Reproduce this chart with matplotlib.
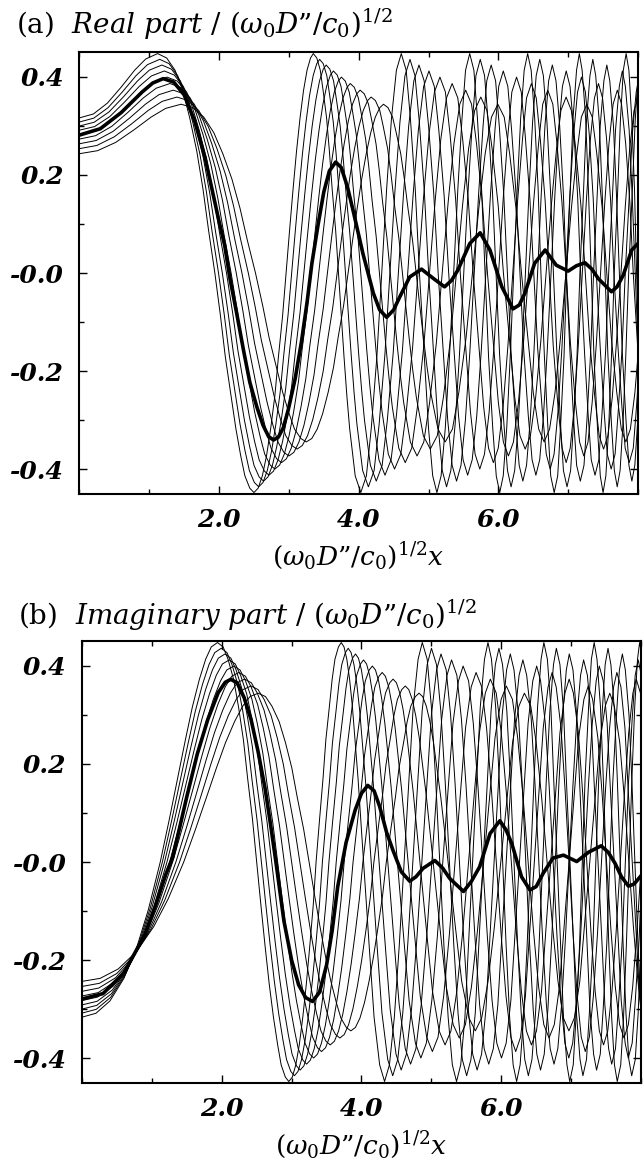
import matplotlib
matplotlib.use("Agg")
import matplotlib.pyplot as plt
import numpy as np
from matplotlib.ticker import MultipleLocator

plt.rcParams["font.family"] = "DejaVu Serif"
plt.rcParams["mathtext.fontset"] = "dejavuserif"

# --- data ---------------------------------------------------------------------
# The nine thin curves are stretched copies of one another: each one is the
# outermost curve (scale 1.0) widened in x by its scale factor and lowered in
# height by the same factor.  Scale factors read from the first troughs / peaks.
scales = [1.000, 1.027, 1.055, 1.086, 1.120, 1.158, 1.200, 1.247, 1.300]

# points along the outermost thin curve (scale 1.0)
u_read = [
    0.00, 0.20, 0.40, 0.60, 0.79, 0.95, 1.12, 1.25, 1.37, 1.48, 1.58, 1.68, 1.77, 1.85, 1.94, 2.02, 2.09, 2.17, 2.24, 2.31,
    2.37, 2.44, 2.50, 2.56, 2.62, 2.68, 2.74, 2.80, 2.85, 2.91, 2.96, 3.01, 3.06, 3.11, 3.16, 3.21, 3.26, 3.31, 3.35, 3.40,
    3.45, 3.49, 3.54, 3.58, 3.62, 3.67, 3.71, 3.75, 3.79, 3.83, 3.87,
    3.95, 4.03, 4.11, 4.18, 4.26, 4.33, 4.40,
    4.47, 4.54, 4.61, 4.68, 4.74, 4.81, 4.87, 4.94, 5.00, 5.06, 5.12, 5.18, 5.24, 5.30, 5.36, 5.42,
    5.48, 5.53, 5.59, 5.65, 5.70, 5.76, 5.81, 5.86, 5.92, 5.97, 6.02, 6.07, 6.12, 6.17, 6.22, 6.27,
    6.32, 6.37, 6.42, 6.47, 6.52, 6.57, 6.61, 6.66, 6.71, 6.75, 6.80, 6.85, 6.89, 6.94, 6.98, 7.03,
    7.07, 7.12, 7.16, 7.20, 7.25, 7.29, 7.33, 7.37, 7.42, 7.46, 7.50, 7.54, 7.58, 7.62, 7.66, 7.71,
    7.75, 7.79, 7.83, 7.87, 7.91, 7.95, 7.98, 8.02,
]
re_read = [
    0.316, 0.324, 0.346, 0.379, 0.413, 0.436, 0.447, 0.438, 0.413, 0.372, 0.316, 0.249, 0.171, 0.087, 0.000, -0.087, -0.171, -0.249, -0.316, -0.372,
    -0.413, -0.438, -0.447, -0.438, -0.413, -0.372, -0.316, -0.249, -0.171, -0.087, 0.000, 0.087, 0.171, 0.249, 0.316, 0.372, 0.413, 0.438, 0.447, 0.438,
    0.413, 0.372, 0.316, 0.249, 0.171, 0.087, 0.000, -0.087, -0.171, -0.249, -0.316,
    -0.413, -0.447, -0.413, -0.316, -0.171, 0.000, 0.171,
    0.316, 0.413, 0.447, 0.413, 0.316, 0.171, 0.000, -0.171, -0.316, -0.413, -0.447, -0.413, -0.316, -0.171, 0.000, 0.171,
    0.316, 0.413, 0.447, 0.413, 0.316, 0.171, 0.000, -0.171, -0.316, -0.413, -0.447, -0.413, -0.316, -0.171, 0.000, 0.171,
    0.316, 0.413, 0.447, 0.413, 0.316, 0.171, 0.000, -0.171, -0.316, -0.413, -0.447, -0.413, -0.316, -0.171, 0.000, 0.171,
    0.316, 0.413, 0.447, 0.413, 0.316, 0.171, 0.000, -0.171, -0.316, -0.413, -0.447, -0.413, -0.316, -0.171, 0.000, 0.171,
    0.316, 0.413, 0.447, 0.413, 0.316, 0.171, 0.000, -0.171,
]
im_read = [
    -0.316, -0.308, -0.283, -0.237, -0.171, -0.097, 0.000, 0.087, 0.171, 0.249, 0.316, 0.372, 0.413, 0.438, 0.447, 0.438, 0.413, 0.372, 0.316, 0.249,
    0.171, 0.087, 0.000, -0.087, -0.171, -0.249, -0.316, -0.372, -0.413, -0.438, -0.447, -0.438, -0.413, -0.372, -0.316, -0.249, -0.171, -0.087, 0.000, 0.087,
    0.171, 0.249, 0.316, 0.372, 0.413, 0.438, 0.447, 0.438, 0.413, 0.372, 0.316,
    0.171, 0.000, -0.171, -0.316, -0.413, -0.447, -0.413,
    -0.316, -0.171, 0.000, 0.171, 0.316, 0.413, 0.447, 0.413, 0.316, 0.171, 0.000, -0.171, -0.316, -0.413, -0.447, -0.413,
    -0.316, -0.171, 0.000, 0.171, 0.316, 0.413, 0.447, 0.413, 0.316, 0.171, 0.000, -0.171, -0.316, -0.413, -0.447, -0.413,
    -0.316, -0.171, 0.000, 0.171, 0.316, 0.413, 0.447, 0.413, 0.316, 0.171, 0.000, -0.171, -0.316, -0.413, -0.447, -0.413,
    -0.316, -0.171, 0.000, 0.171, 0.316, 0.413, 0.447, 0.413, 0.316, 0.171, 0.000, -0.171, -0.316, -0.413, -0.447, -0.413,
    -0.316, -0.171, 0.000, 0.171, 0.316, 0.413, 0.447, 0.413,
]

# heavy curve, panel (a)
thick_re_x = [0.00, 0.30, 0.60, 0.90, 1.05, 1.20, 1.35, 1.50, 1.65, 1.80, 1.90, 2.00, 2.08, 2.16,
              2.25, 2.35, 2.44, 2.54, 2.63, 2.71, 2.78, 2.85, 2.92, 2.99, 3.09, 3.18, 3.26, 3.33,
              3.42, 3.50, 3.58, 3.67, 3.75, 3.84, 3.93, 4.06, 4.21, 4.30, 4.40, 4.50, 4.59, 4.73,
              4.90, 5.07, 5.23, 5.33, 5.42, 5.59, 5.74, 5.88, 6.05, 6.21, 6.30, 6.38, 6.52, 6.67,
              6.83, 7.00, 7.12, 7.24, 7.34, 7.43, 7.62, 7.70, 7.79, 7.91, 8.00]
thick_re_y = [0.281, 0.294, 0.327, 0.369, 0.387, 0.396, 0.389, 0.363, 0.310, 0.235, 0.170, 0.105, 0.057, -0.014,
              -0.080, -0.157, -0.222, -0.272, -0.310, -0.333, -0.340, -0.334, -0.315, -0.279, -0.215, -0.140, -0.060, 0.020,
              0.100, 0.165, 0.208, 0.226, 0.215, 0.175, 0.121, 0.040, -0.041, -0.075, -0.090, -0.075, -0.048, -0.008,
              0.008, -0.011, -0.028, -0.015, 0.006, 0.060, 0.082, 0.047, -0.028, -0.073, -0.065, -0.041, 0.020, 0.047,
              0.016, 0.004, 0.015, 0.021, 0.008, -0.011, -0.038, -0.028, -0.004, 0.047, 0.060]

# heavy curve, panel (b)
thick_im_x = [0.00, 0.30, 0.60, 0.90, 1.05, 1.20, 1.30, 1.50, 1.65, 1.80, 1.95, 2.05, 2.13, 2.22,
              2.32, 2.42, 2.52, 2.62, 2.70, 2.78, 2.89, 3.00, 3.10, 3.20, 3.30, 3.40, 3.50, 3.58,
              3.66, 3.78, 3.91, 4.00, 4.09, 4.18, 4.26, 4.36, 4.45, 4.57, 4.69, 4.78, 4.88, 5.05,
              5.16, 5.26, 5.46, 5.57, 5.69, 5.84, 5.98, 6.07, 6.15, 6.29, 6.41, 6.50, 6.60, 6.74,
              6.89, 7.08, 7.25, 7.43, 7.53, 7.63, 7.72, 7.82, 7.90, 8.00]
thick_im_y = [-0.279, -0.268, -0.226, -0.148, -0.090, -0.025, 0.010, 0.133, 0.220, 0.290, 0.345, 0.366, 0.372, 0.365,
              0.335, 0.290, 0.225, 0.150, 0.075, -0.005, -0.120, -0.200, -0.250, -0.276, -0.284, -0.265, -0.210, -0.140,
              -0.050, 0.040, 0.106, 0.140, 0.156, 0.145, 0.113, 0.060, 0.024, -0.020, -0.039, -0.030, -0.013, 0.003,
              -0.012, -0.033, -0.060, -0.040, -0.010, 0.058, 0.084, 0.065, 0.038, -0.030, -0.057, -0.050, -0.023, 0.008,
              0.014, 0.001, 0.020, 0.033, 0.020, -0.003, -0.030, -0.049, -0.045, -0.028]

ytick_vals = [-0.4, -0.2, 0.0, 0.2, 0.4]
ytick_text = ["-0.4", "-0.2", "-0.0", "0.2", "0.4"]
xtick_vals = [2.0, 4.0, 6.0]
xtick_text = ["2.0", "4.0", "6.0"]

title_a = r"(a)  $\mathit{Real\ part}$ / $(\omega_0 D$”$/c_0)^{1/2}$"
title_b = r"(b)  $\mathit{Imaginary\ part}$ / $(\omega_0 D$”$/c_0)^{1/2}$"
xlab = r"$(\omega_0 D$”$/c_0)^{1/2}x$"

TICKFONT = dict(fontsize=18, fontweight="bold", fontstyle="italic")


def style_axes(ax, title, title_gap):
    ax.set_xlim(0, 8)
    ax.set_ylim(-0.45, 0.45)
    ax.set_xticks(xtick_vals)
    ax.set_xticklabels(xtick_text, **TICKFONT)
    ax.set_yticks(ytick_vals)
    ax.set_yticklabels(ytick_text, **TICKFONT)
    ax.xaxis.set_minor_locator(MultipleLocator(1.0))
    ax.yaxis.set_minor_locator(MultipleLocator(0.1))
    ax.tick_params(which="both", direction="in", top=True, right=True, width=1.0)
    ax.tick_params(which="major", length=6)
    ax.tick_params(which="minor", length=3.5)
    ax.tick_params(axis="y", which="major", pad=11)
    ax.tick_params(axis="x", which="major", pad=10)
    for sp in ax.spines.values():
        sp.set_linewidth(1.5)
    ax.text(-0.114, 1.0 + title_gap, title, transform=ax.transAxes,
            ha="left", va="baseline", fontsize=20)
    ax.text(0.5, -0.142, xlab, transform=ax.transAxes,
            ha="center", va="center", fontsize=19)


fig = plt.figure(figsize=(6.43, 11.63), dpi=100)
ax_a = fig.add_axes([0.1235, 0.5752, 0.8687, 0.3800])
ax_b = fig.add_axes([0.1275, 0.0688, 0.8694, 0.3800])

u = np.array(u_read)
for s in scales:
    ax_a.plot(u * s, np.array(re_read) / s, color="black", lw=0.7)
    ax_b.plot(u * s, np.array(im_read) / s, color="black", lw=0.7)
ax_a.plot(thick_re_x, thick_re_y, color="black", lw=2.6, solid_joinstyle="round")
ax_b.plot(thick_im_x, thick_im_y, color="black", lw=2.6, solid_joinstyle="round")

style_axes(ax_a, title_a, 0.042)
style_axes(ax_b, title_b, 0.037)

fig.savefig("out.png", dpi=100)
